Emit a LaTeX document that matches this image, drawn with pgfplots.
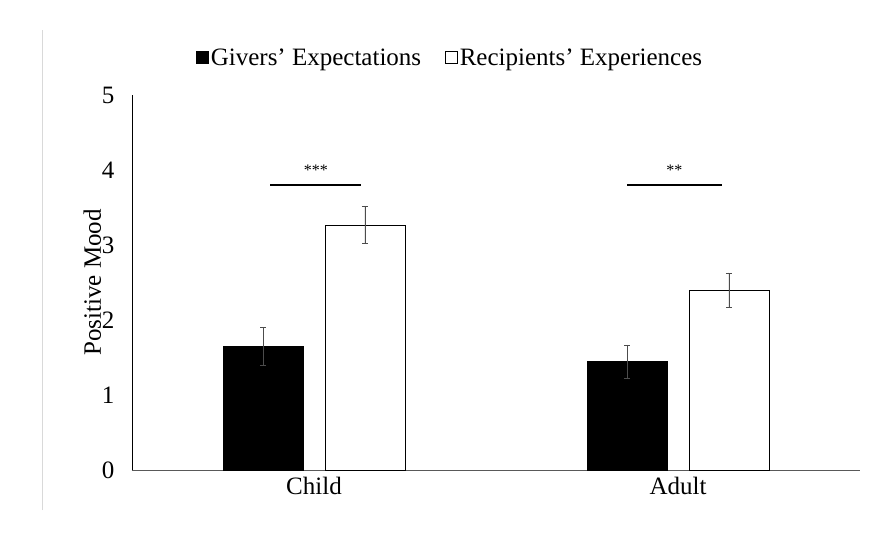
\documentclass[border=0pt]{standalone}
\usepackage{pgfplots}
\pgfplotsset{compat=1.18}
\usepackage{fontspec}
\setmainfont{Liberation Serif}
\begin{document}
\begin{tikzpicture}[x=1pt,y=1pt]
\useasboundingbox (-132,-66) rectangle (751,470);
\draw[gray!30] (-90,-40) -- (-90,440);
\begin{axis}[
  at={(0,0)}, anchor=south west,
  scale only axis, width=728pt, height=375pt,
  xmin=-0.5, xmax=1.5, ymin=0, ymax=5,
  axis x line*=bottom, axis y line*=left,
  xtick={0,1}, xticklabels={Child,Adult},
  ytick={0,1,2,3,4,5},
  major tick length=0pt,
  x axis line style={-, gray!70!black}, y axis line style={-, black},
  tick label style={font=\fontsize{25}{30}\selectfont},
  xticklabel style={yshift=-4pt}, yticklabel style={xshift=-14pt},
  /pgf/number format/assume math mode=true,
  ylabel={Positive Mood}, ylabel style={font=\fontsize{25}{30}\selectfont, yshift=-6pt},
  ybar, bar width=0.22,
  legend style={draw=none, at={(0.437,1.1)}, anchor=center, legend columns=2,
    font=\fontsize{25}{30}\selectfont, /tikz/every even column/.append style={column sep=22pt}},
  legend image code/.code={\draw[#1, draw=black, line width=0.6pt] (0pt,-6pt) rectangle (12pt,6pt);},
  error bars/error bar style={gray!60!black, line width=0.6pt},
  error bars/error mark options={rotate=90, mark size=3pt, gray!60!black},
  clip=false,
]
\addplot[fill=black, draw=black, bar shift=-0.14, error bars/.cd, y dir=both, y explicit]
  coordinates {(0,1.65) +- (0,0.25) (1,1.45) +- (0,0.22)};
\addplot[fill=white, draw=black, bar shift=0.14, error bars/.cd, y dir=both, y explicit]
  coordinates {(0,3.27) +- (0,0.25) (1,2.40) +- (0,0.23)};
\legend{Givers' Expectations, Recipients' Experiences}
\draw[line width=1.5pt] (axis cs:-0.12,3.8) -- (axis cs:0.13,3.8);
\draw[line width=1.5pt] (axis cs:0.86,3.8) -- (axis cs:1.12,3.8);
\node[font=\fontsize{16}{18}\selectfont] at (axis cs:0.005,3.99) {***};
\node[font=\fontsize{16}{18}\selectfont] at (axis cs:0.99,3.99) {**};
\end{axis}
\end{tikzpicture}
\end{document}
